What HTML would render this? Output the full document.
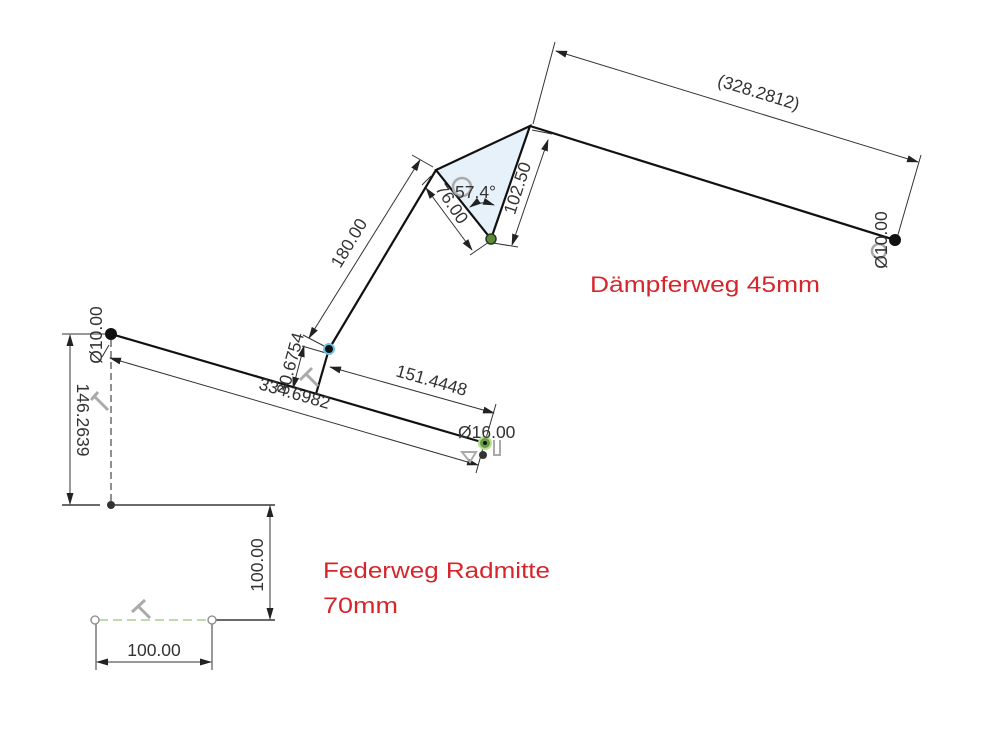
<!DOCTYPE html>
<html><head><meta charset="utf-8"><style>
html,body{margin:0;padding:0;background:#fff;}
svg{display:block;font-family:"Liberation Sans",sans-serif;}
.dim{fill:#333;font-size:17.5px;}
</style></head><body>
<svg width="993" height="736" viewBox="0 0 993 736">
<defs>
<marker id="ar" markerWidth="12" markerHeight="8" refX="11" refY="4" orient="auto-start-reverse" markerUnits="userSpaceOnUse">
<path d="M0,0.5 L12,4 L0,7.5 Z" fill="#222"/></marker>
</defs>
<polygon points="436,170 530,126 491,239" fill="#e6f1fa" stroke="#111" stroke-width="2.2"/>
<g stroke="#111" stroke-width="2.2" fill="none">
<line x1="530" y1="126" x2="895" y2="240"/>
<line x1="436" y1="170" x2="329" y2="349"/>
<line x1="329" y1="349" x2="316" y2="394"/>
<line x1="111" y1="334" x2="485" y2="443"/>
<line x1="112" y1="505" x2="275" y2="505" stroke-width="1.3"/>
<line x1="62" y1="505" x2="100" y2="505" stroke-width="1.3"/>
<line x1="216" y1="620" x2="275" y2="620" stroke-width="1.3"/>
</g>
<line x1="111" y1="340" x2="111" y2="505" stroke="#555" stroke-width="1.3" stroke-dasharray="7,4"/>
<line x1="99" y1="620" x2="208" y2="620" stroke="#a8d08d" stroke-width="1.5" stroke-dasharray="9,5"/>
<g stroke="#333" stroke-width="1" fill="none">
<line x1="533" y1="124" x2="555" y2="42"/>
<line x1="897" y1="238" x2="921" y2="155"/>
<line x1="556" y1="51" x2="918" y2="162" marker-start="url(#ar)" marker-end="url(#ar)"/>
<line x1="532" y1="130" x2="552" y2="134"/>
<line x1="548" y1="140" x2="512" y2="245" marker-start="url(#ar)" marker-end="url(#ar)"/>
<line x1="493" y1="243" x2="518" y2="247"/>
<line x1="433" y1="167" x2="412" y2="155"/>
<line x1="420" y1="160" x2="309" y2="338" marker-start="url(#ar)" marker-end="url(#ar)"/>
<line x1="326" y1="347" x2="303" y2="335"/>
<line x1="431" y1="176" x2="422" y2="185"/>
<line x1="426" y1="188" x2="472" y2="250" marker-start="url(#ar)" marker-end="url(#ar)"/>
<line x1="489" y1="242" x2="470" y2="255"/>
<path d="M470,207 Q480,200 494,205" marker-start="url(#ar)" marker-end="url(#ar)"/>
<line x1="304" y1="346" x2="293" y2="388" marker-start="url(#ar)" marker-end="url(#ar)"/>
<line x1="302" y1="346" x2="326" y2="353"/>
<line x1="330" y1="367" x2="494" y2="413" marker-start="url(#ar)" marker-end="url(#ar)"/>
<line x1="496" y1="404" x2="484" y2="445"/>
<line x1="109" y1="345" x2="102" y2="357"/>
<line x1="110" y1="358" x2="478" y2="465" marker-start="url(#ar)" marker-end="url(#ar)"/>
<line x1="483" y1="448" x2="476" y2="473"/>
<line x1="62" y1="334" x2="105" y2="334"/>
<line x1="70" y1="335" x2="70" y2="504" marker-start="url(#ar)" marker-end="url(#ar)"/>
<line x1="270" y1="506" x2="270" y2="619" marker-start="url(#ar)" marker-end="url(#ar)"/>
<line x1="96" y1="624" x2="96" y2="670"/>
<line x1="212" y1="624" x2="212" y2="670"/>
<line x1="97" y1="662" x2="211" y2="662" marker-start="url(#ar)" marker-end="url(#ar)"/>
</g>
<g stroke="#aaa" stroke-width="3" fill="none">
<path d="M91,400 L98,392 M94,396 L108,410"/>
<path d="M300,380 L312,368 M306,374 L318,386"/>
<path d="M132,612 L145,600 M138,606 L150,618"/>
<circle cx="462" cy="187" r="9" stroke-width="2.5"/>
<circle cx="879" cy="251" r="7" stroke-width="2.5"/>
<path d="M462,452 L476,452 L470,462 Z M494,440 L494,455 L500,455 L500,440" stroke-width="2"/>
</g>
<circle cx="111" cy="334" r="6" fill="#111"/>
<circle cx="895" cy="240" r="6" fill="#111"/>
<circle cx="111" cy="505" r="4" fill="#333"/>
<circle cx="329" cy="349" r="5" fill="#111" stroke="#6fc3e8" stroke-width="2"/>
<circle cx="491" cy="239" r="5" fill="#5a8a3a" stroke="#2a3a20" stroke-width="1.5"/>
<circle cx="485" cy="443" r="6" fill="#6a9a4a" stroke="#b6e08a" stroke-width="2"/>
<circle cx="485" cy="443" r="2" fill="#111"/>
<circle cx="483" cy="455" r="4" fill="#333"/>
<circle cx="95" cy="620" r="4" fill="#fff" stroke="#888" stroke-width="1.3"/>
<circle cx="212" cy="620" r="4" fill="#fff" stroke="#888" stroke-width="1.3"/>
<text class="dim" fill="#555" transform="translate(757,98) rotate(17)" text-anchor="middle">(328.2812)</text>
<text class="dim" transform="translate(523,190) rotate(-72)" text-anchor="middle">102.50</text>
<text class="dim" transform="translate(354,246) rotate(-59)" text-anchor="middle">180.00</text>
<text class="dim" transform="translate(447,207) rotate(56)" text-anchor="middle">76.00</text>
<text class="dim" x="455" y="198" font-size="16">57.4°</text>
<text class="dim" transform="translate(296,365) rotate(-75)" text-anchor="middle">30.6754</text>
<text class="dim" transform="translate(430,386) rotate(16)" text-anchor="middle">151.4448</text>
<text class="dim" transform="translate(293,399) rotate(16)" text-anchor="middle">334.6982</text>
<text class="dim" x="458" y="438">Ø16.00</text>
<text class="dim" transform="translate(102,335) rotate(-90)" text-anchor="middle">Ø10.00</text>
<text class="dim" transform="translate(77,420) rotate(90)" text-anchor="middle">146.2639</text>
<text class="dim" transform="translate(887,240) rotate(-90)" text-anchor="middle">Ø10.00</text>
<text class="dim" transform="translate(263,565) rotate(-90)" text-anchor="middle">100.00</text>
<text class="dim" x="154" y="656" text-anchor="middle">100.00</text>
<text x="590" y="292" fill="#d7262b" font-size="22" textLength="230" lengthAdjust="spacingAndGlyphs">Dämpferweg 45mm</text>
<text x="323" y="578" fill="#d7262b" font-size="22" textLength="227" lengthAdjust="spacingAndGlyphs">Federweg Radmitte</text>
<text x="323" y="613" fill="#d7262b" font-size="22" textLength="75" lengthAdjust="spacingAndGlyphs">70mm</text>
</svg>
</body></html>
